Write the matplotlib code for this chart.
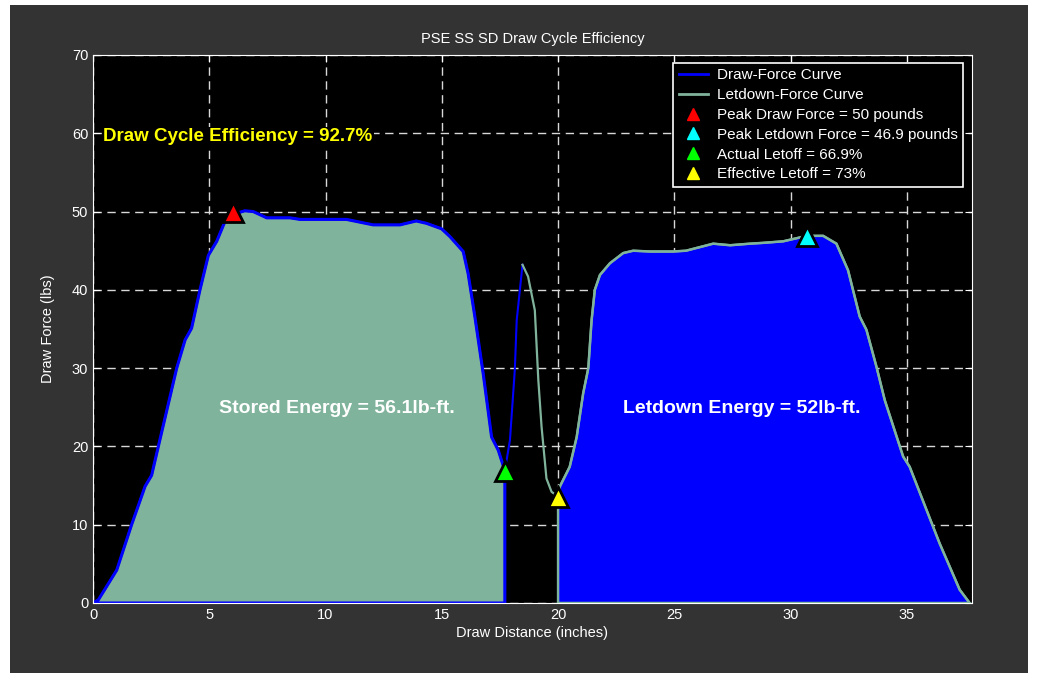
import matplotlib
matplotlib.use("Agg")
import matplotlib.pyplot as plt
from matplotlib.lines import Line2D
from matplotlib.patches import Rectangle

plt.rcParams["font.family"] = ["Liberation Sans", "DejaVu Sans"]

# Draw-force curve (inches, pounds)
draw_x = [0.0, 0.23, 1.02, 1.66, 2.24, 2.52, 2.81, 3.6, 3.96, 4.24, 4.6,
          4.96, 5.32, 5.67, 5.96, 6.53, 6.89, 7.47, 8.47, 8.9, 10.9, 12.05,
          13.2, 13.9, 14.34, 14.99, 15.35, 15.92, 16.13, 16.42, 16.78, 17.14,
          17.43, 17.71, 17.93, 18.14, 18.22, 18.47]
draw_y = [0.0, 0.4, 4.2, 10.0, 14.9, 16.3, 20.0, 30.0, 33.6, 35.1, 40.0,
          44.4, 46.2, 48.7, 49.6, 50.1, 50.0, 49.2, 49.2, 49.0, 49.0, 48.3,
          48.3, 48.8, 48.5, 47.8, 46.8, 44.9, 42.1, 36.6, 29.3, 21.2,
          19.5, 16.9, 20.8, 29.8, 36.1, 43.2]

# Letdown-force curve
let_x = [18.47, 18.71, 19.0, 19.15, 19.29, 19.5, 19.72, 20.0, 20.08, 20.5,
         20.8, 21.08, 21.3, 21.44, 21.58, 21.8, 22.23, 22.8, 23.23, 23.95,
         24.95, 25.5, 26.67, 27.4, 28.25, 28.8, 29.68, 30.7, 31.4, 31.97,
         32.47, 32.97, 33.26, 33.69, 34.05, 34.84, 35.12, 36.41, 37.27, 37.7]
let_y = [43.2, 41.7, 37.4, 28.5, 22.5, 15.9, 14.2, 13.6, 14.9, 17.4,
         21.2, 26.8, 30.0, 36.1, 40.0, 41.9, 43.4, 44.7, 45.0, 44.9,
         44.9, 45.0, 45.9, 45.7, 45.9, 46.0, 46.2, 46.9, 46.9, 45.9,
         42.5, 36.6, 34.9, 30.2, 25.9, 18.7, 17.4, 7.6, 1.7, 0.0]

peak_draw = (6.0, 50.0)
peak_letdown = (30.7, 46.9)
actual_letoff = (17.71, 16.9)
effective_letoff = (20.0, 13.6)

legend_labels = ["Draw-Force Curve", "Letdown-Force Curve",
                 "Peak Draw Force = 50 pounds",
                 "Peak Letdown Force = 46.9 pounds",
                 "Actual Letoff = 66.9%", "Effective Letoff = 73%"]

sage = "#80b39b"

fig = plt.figure(figsize=(10.49, 6.73), dpi=100, facecolor="white")
# gray MATLAB-style figure panel
fig.patches.append(Rectangle((10 / 1049, 0), 1018 / 1049, 668 / 673,
                             transform=fig.transFigure, facecolor="#333333",
                             edgecolor="none", zorder=-10))
ax = fig.add_axes([93 / 1049, 1 - 603 / 673, 879 / 1049, 548 / 673])
ax.set_facecolor("black")

# stored energy area (up to actual letoff)
i_let = draw_x.index(actual_letoff[0])
sx = draw_x[:i_let + 1] + [draw_x[i_let], 0.0]
sy = draw_y[:i_let + 1] + [0.0, 0.0]
ax.fill(sx, sy, facecolor=sage, edgecolor="blue", linewidth=2.2, zorder=2)

# letdown energy area (from effective letoff)
i_eff = let_x.index(effective_letoff[0])
lx = [let_x[i_eff]] + let_x[i_eff:] + [let_x[i_eff]]
ly = [0.0] + let_y[i_eff:] + [0.0]
ax.fill(lx, ly, facecolor="blue", edgecolor=sage, linewidth=1.8, zorder=2)

ax.plot(draw_x, draw_y, color="blue", linewidth=1.5, zorder=3)
ax.plot(let_x, let_y, color=sage, linewidth=1.6, zorder=3)

mk = dict(marker="^", markersize=15, markeredgecolor="black",
          markeredgewidth=2, linestyle="none", zorder=5, clip_on=False)
ax.plot(*peak_draw, color="red", **mk)
ax.plot(*peak_letdown, color="cyan", **mk)
ax.plot(*actual_letoff, color="#00ff00", **mk)
ax.plot(*effective_letoff, color="yellow", **mk)

ax.text(0.45, 59.6, "Draw Cycle Efficiency = 92.7%", color="yellow",
        fontsize=13.5, fontweight="bold", va="center", ha="left",
        bbox=dict(facecolor="black", edgecolor="none", pad=1), zorder=4)
ax.text(10.5, 24.8, "Stored Energy = 56.1lb-ft.", color="white",
        fontsize=14, fontweight="bold", va="center", ha="center", zorder=4)
ax.text(27.9, 24.8, "Letdown Energy = 52lb-ft.", color="white",
        fontsize=14, fontweight="bold", va="center", ha="center", zorder=4)

ax.set_xlim(0, 37.8)
ax.set_ylim(0, 70)
ax.set_xticks(range(0, 36, 5))
ax.set_yticks(range(0, 71, 10))
ax.set_axisbelow(True)
ax.grid(True, color="#d8d8d8", linestyle=(0, (6, 4)), linewidth=1)
for s in ax.spines.values():
    s.set_color("white")
    s.set_zorder(6)
ax.tick_params(direction="in", colors="white", labelsize=10.5, length=5,
               top=True, right=True)

ax.set_title("PSE SS SD Draw Cycle Efficiency", color="white",
             fontsize=10.5, pad=9)
ax.set_xlabel("Draw Distance (inches)", color="white", fontsize=10.5,
              labelpad=3)
ax.set_ylabel("Draw Force (lbs)", color="white", fontsize=10.5, labelpad=12)

handles = [Line2D([], [], color="blue", lw=2),
           Line2D([], [], color=sage, lw=2)]
for c in ["red", "cyan", "#00ff00", "yellow"]:
    handles.append(Line2D([], [], color=c, marker="^", markersize=8,
                          linestyle="none"))
leg = ax.legend(handles, legend_labels, loc="upper right", fontsize=11,
                frameon=True, fancybox=False, facecolor="black",
                edgecolor="white", labelcolor="white",
                bbox_to_anchor=((963 - 93) / 879, 1 - 8 / 548),
                borderaxespad=0, handlelength=1.9, handletextpad=0.6,
                labelspacing=0.38, borderpad=0.35)
leg.get_frame().set_linewidth(1.2)
leg.get_frame().set_alpha(1)
leg.set_zorder(10)

fig.savefig("out.png", dpi=100, facecolor=fig.get_facecolor())
